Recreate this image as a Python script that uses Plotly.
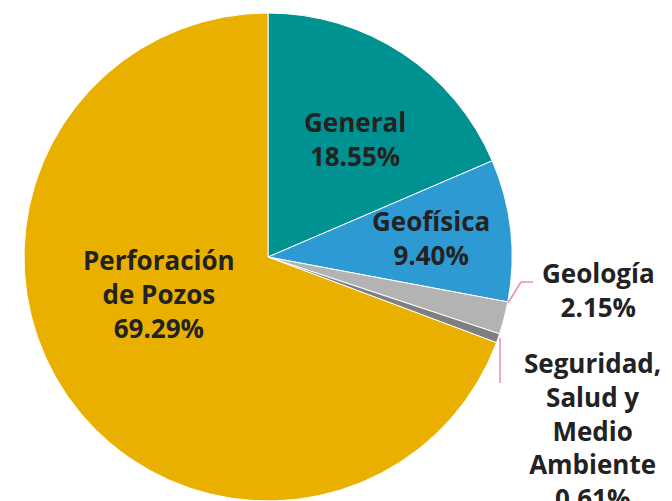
import plotly.graph_objects as go

labels = ["General", "Geofísica", "Geología", "Seguridad, Salud y Medio Ambiente", "Perforación de Pozos"]
label_lines = ["General", "Geofísica", "Geología", "Seguridad,<br>Salud y<br>Medio<br>Ambiente", "Perforación<br>de Pozos"]
values = [18.55, 9.40, 2.15, 0.61, 69.29]
colors = ["#009191", "#2D9AD3", "#B3B3B3", "#7F7F7F", "#EAB000"]

W, H = 672, 501
# label centre positions in pixels (x, y from top)
label_pos = [(355, 139), (431, 238), (598, 290), (592, 430), (159, 294)]

fig = go.Figure()
fig.add_trace(go.Pie(
    labels=labels, values=values, sort=False, direction="clockwise",
    marker=dict(colors=colors, line=dict(color="white", width=1)),
    textinfo="none", hoverinfo="label+percent", showlegend=False,
    domain=dict(x=[24 / W, 512 / W], y=[0, 1 - 13 / H]),
))

for lab, v, (px, py) in zip(label_lines, values, label_pos):
    fig.add_annotation(
        x=px / W, y=1 - py / H, xref="paper", yref="paper",
        text=f"<b>{lab}<br>{v:.2f}%</b>", showarrow=False,
        xanchor="center", yanchor="middle", align="center",
        font=dict(family="Open Sans", size=26, color="#222222"),
    )

pink = "#EA8DB4"
def seg(x0, y0, x1, y1):
    fig.add_shape(type="line", xref="paper", yref="paper",
                  x0=x0 / W, y0=1 - y0 / H, x1=x1 / W, y1=1 - y1 / H,
                  line=dict(color=pink, width=1.5))

seg(508, 303, 521, 282)
seg(521, 282, 533, 282)
seg(500, 338, 500, 383)

fig.update_layout(width=W, height=H, margin=dict(l=0, r=0, t=0, b=0),
                  paper_bgcolor="white", plot_bgcolor="white")
fig.write_html("out.html")
